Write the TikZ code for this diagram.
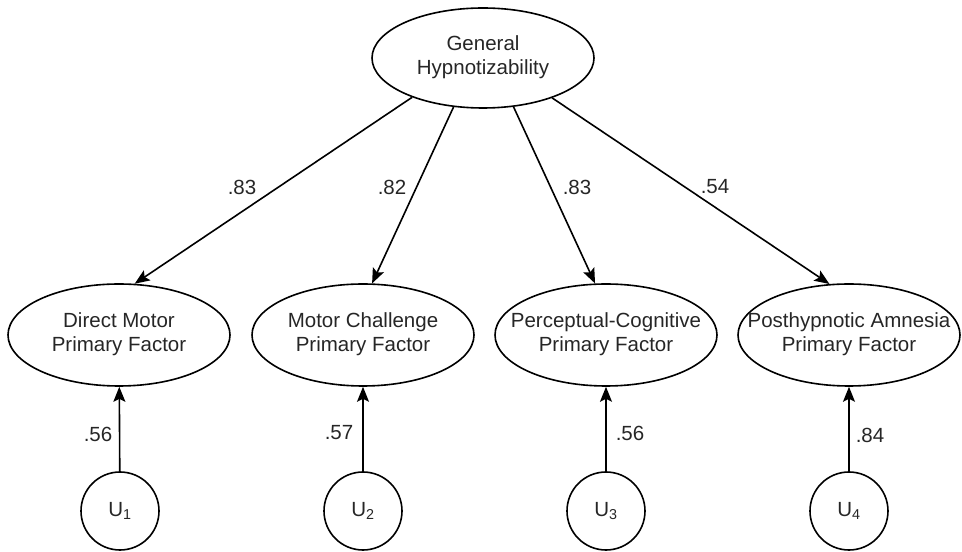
\documentclass[tikz,border=0pt]{standalone}
\usepackage{fontspec}
\setmainfont{Liberation Sans}
\usetikzlibrary{shapes.geometric,arrows.meta}
\newcommand{\twoline}[2]{\makebox[0pt]{\begin{tabular}{@{}c@{}}#1\\#2\end{tabular}}}
\tikzset{
  every node/.style={font=\fontsize{20.5}{24}\selectfont, text=black!85},
  factor/.style={ellipse, draw, line width=1.6pt, inner sep=0pt, minimum width=222pt, minimum height=102pt},
  unique/.style={circle, draw, line width=1.6pt, inner sep=0pt, minimum size=78pt},
  load/.style={line width=1.6pt, -{Stealth[length=15pt,width=12pt,inset=3pt]}},
  coef/.style={inner sep=0pt}
}
\begin{document}
\begin{tikzpicture}[x=1pt,y=1pt]
\useasboundingbox (0,0) rectangle (962,552);
\node[factor, minimum height=100pt] (g) at (483,494) {\twoline{General}{Hypnotizability}};
\node[factor] (f1) at (119,217) {\twoline{Direct Motor}{Primary Factor}};
\node[factor] (f2) at (363,217) {\twoline{Motor Challenge}{Primary Factor}};
\node[factor] (f3) at (606,217) {\twoline{Perceptual-Cognitive}{Primary Factor}};
\node[factor] (f4) at (849,217) {\twoline{Posthypnotic Amnesia}{Primary Factor}};
\node[unique] (u1) at (120,41) {U\textsubscript{1}};
\node[unique] (u2) at (363,41) {U\textsubscript{2}};
\node[unique] (u3) at (606,41) {U\textsubscript{3}};
\node[unique] (u4) at (849,41) {U\textsubscript{4}};
\draw[load] (g.209.7) -- (f1.73.9);
\draw[load] (g.239.4) -- (f2.80.2);
\draw[load] (g.302.3) -- (f3.102);
\draw[load] (g.330.9) -- (f4.111.8);
\draw[load] (u1) -- (f1);
\draw[load] (u2) -- (f2);
\draw[load] (u3) -- (f3);
\draw[load] (u4) -- (f4);
\node[coef] (c1) at (242,365) {.83};
\node[coef] (c2) at (392,365) {.82};
\node[coef] (c3) at (577,365) {.83};
\node[coef] (c4) at (715,365) {.54};
\node[coef] (d1) at (98,118) {.56};
\node[coef] (d2) at (339,119) {.57};
\node[coef] (d3) at (630,119) {.56};
\node[coef] (d4) at (870,117) {.84};
\end{tikzpicture}
\end{document}
